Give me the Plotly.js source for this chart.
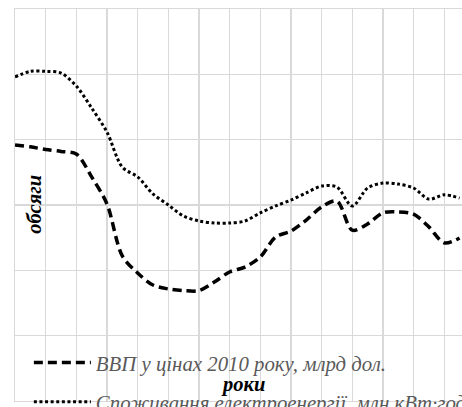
<!DOCTYPE html>
<html>
<head>
<meta charset="utf-8">
<script src="https://cdn.plot.ly/plotly-3.0.1.min.js"></script>
<style>html,body{margin:0;padding:0;background:#fff;}#chart{width:462px;height:407px;}</style>
</head>
<body>
<div id="chart"></div>
<script>
// index of observation (period)
const periods = [0,1,2,3,4,5,6,7,8,9,10,11,12,13,14,15,16,17,18,19,20,21,22,23,24,25,26,27,28,29];
const gdpName = "ВВП у цінах 2010 року, млрд дол.";
const gdpValues = [78.4,77.8,77.0,76.4,75.6,68.6,60.3,44.4,39.2,35.5,34.3,33.8,33.8,36.4,39.5,41.0,44.1,50.2,52.0,55.4,59.4,61.2,52.3,54.2,57.6,57.9,57.2,53.3,48.4,49.9];
const elecName = "Споживання електроенергії, млн кВт·год";
const elecValues = [99.2,100.9,100.9,100.4,96.4,89.7,82.3,71.6,68.6,63.4,60.0,56.6,55.1,54.5,54.5,55.1,57.6,59.7,61.5,63.7,65.8,65.5,59.7,65.2,66.7,66.4,65.2,61.8,63.1,62.1];
const xTitle = "роки";
const yTitle = "обсяги";

const serif = "Liberation Serif";

const traces = [
  {x: periods, y: gdpValues, name: gdpName, type: 'scatter', mode: 'lines',
   line: {color: '#000000', width: 3.5, dash: '9px,5px', shape: 'spline', smoothing: 0.9},
   legend: 'legend'},
  {x: periods, y: elecValues, name: elecName, type: 'scatter', mode: 'lines',
   line: {color: '#000000', width: 3, dash: '3px,2.6px', shape: 'spline', smoothing: 0.9},
   legend: 'legend2'}
];

const legendFont = {family: serif, size: 20.8, color: '#595959', style: 'italic'};

const layout = {
  width: 462, height: 407,
  margin: {l: 15, r: 0, t: 9, b: 6, autoexpand: false},
  paper_bgcolor: '#ffffff', plot_bgcolor: '#ffffff',
  showlegend: true,
  xaxis: {range: [0, 29.16], tick0: 0, dtick: 2, showticklabels: false, ticks: '',
          showgrid: true, gridcolor: '#d9d9d9', gridwidth: 1.3, zeroline: false,
          showline: true, linecolor: '#d9d9d9', linewidth: 1.3, mirror: true},
  yaxis: {range: [0, 120], tick0: 0, dtick: 20, showticklabels: false, ticks: '',
          showgrid: true, gridcolor: '#d9d9d9', gridwidth: 1.3, zeroline: false,
          showline: true, linecolor: '#d9d9d9', linewidth: 1.3},
  legend: {x: 0.031, y: 0.097, xanchor: 'left', yanchor: 'middle', bgcolor: 'rgba(0,0,0,0)',
           font: legendFont, itemwidth: 57},
  legend2: {x: 0.031, y: -0.003, xanchor: 'left', yanchor: 'middle', bgcolor: 'rgba(0,0,0,0)',
           font: legendFont, itemwidth: 57},
  annotations: [
    {text: '<b><i>' + xTitle + '</i></b>', xref: 'paper', yref: 'paper', x: 0.51, y: 0.008,
     showarrow: false, font: {family: serif, size: 20.5, color: '#000000'}},
    {text: '<b><i>' + yTitle + '</i></b>', xref: 'paper', yref: 'paper', x: 0.013, y: 0.503,
     textangle: -90, showarrow: false, font: {family: serif, size: 20.5, color: '#000000'}}
  ]
};

Plotly.newPlot('chart', traces, layout, {displayModeBar: false, staticPlot: true});
</script>
</body>
</html>
